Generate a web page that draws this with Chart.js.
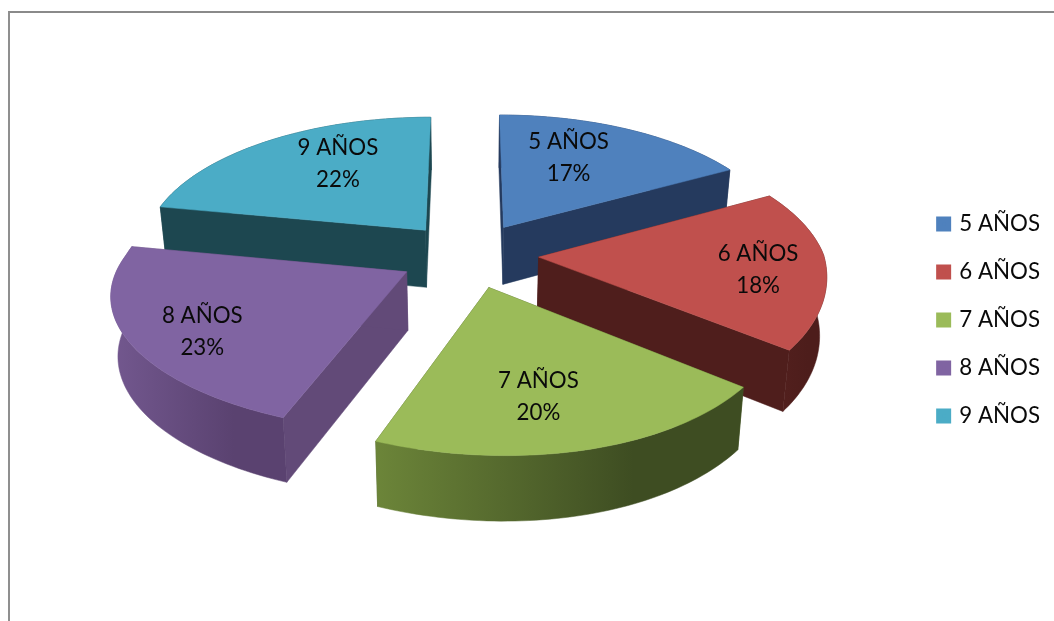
<!DOCTYPE html>
<html>
<head>
<meta charset="utf-8">
<style>
  html, body { margin: 0; padding: 0; background: #fff; overflow: hidden; }
  #frame { position: absolute; left: 8px; top: 11px; width: 1046px; height: 610px;
           border-left: 2px solid #8f8f8f; border-top: 2px solid #8a8a8a; box-sizing: border-box; }
  #wrap { position: absolute; left: 0; top: 0; width: 1054px; height: 621px; }
</style>
</head>
<body>
<div id="frame"></div>
<div id="wrap"><canvas id="pie"></canvas></div>
<script src="https://cdn.jsdelivr.net/npm/chart.js@4"></script>
<script>
// ─── Data ────────────────────────────────────────────
const LABELS = ['5 AÑOS', '6 AÑOS', '7 AÑOS', '8 AÑOS', '9 AÑOS'];
const VALUES = [17, 18, 20, 23, 22];

// ─── Colours ─────────────────────────────────────────
const TOP_COLORS  = ['#4F81BD', '#C0504D', '#9BBB59', '#8064A2', '#4BACC6'];
const WALL_COLORS = ['#253A5E', '#4F1E1C', '#4A5E28', '#624A78', '#1D4750'];
const RIM_LEFT    = ['#253A5E', '#55211F', '#6C8539', '#73588F', '#1D4750'];
const RIM_RIGHT   = ['#253A5E', '#4D1D1B', '#3E4D22', '#5A4270', '#1D4750'];

// ─── Fake 3D view, the library only lays out the flat pie ─────
const VIEW = { cx: 469, cy: 255, rx: 285, ry: 134.5, depth: 58, persp: 0.135, shrink: 0.02, shearX: -10, shearY: 10 };
// how far out the two line label sits on its slice, and a small nudge
const LABEL_POS = [[0.6, -12, -8], [0.72, 13, 6], [0.66, -11, 8], [0.72, -8, 10], [0.6, 10, -11]];
const FONT = 'Lato, Carlito, sans-serif';

function project(u, v, z) {
  const s = 1 / (1 - VIEW.persp * v);
  const k = 1 - VIEW.shrink * z;
  const front = Math.max(v, 0);   // the picture only skews on the near half
  return [VIEW.cx + (VIEW.rx * u + VIEW.shearX * front) * s * k,
          VIEW.cy + (VIEW.ry * v + VIEW.shearY * u * front) * s * k + VIEW.depth * s * z];
}

function slicePoint(el, angle, r) {
  const mid = (el.startAngle + el.endAngle) / 2;
  const off = el.options.offset / el.outerRadius;
  return [Math.cos(mid) * off + Math.cos(angle) * r, Math.sin(mid) * off + Math.sin(angle) * r];
}

function poly(ctx, pts, fill) {
  ctx.beginPath();
  pts.forEach((p, i) => i ? ctx.lineTo(p[0], p[1]) : ctx.moveTo(p[0], p[1]));
  ctx.closePath();
  ctx.fillStyle = fill;
  ctx.fill();
  ctx.strokeStyle = fill;   // hides hairlines on the polygon edges
  ctx.lineWidth = 0.5;
  ctx.stroke();
}

const pie3d = {
  id: 'pie3d',
  beforeDatasetDraw(chart, args) {
    const ctx = chart.ctx;
    const arcs = chart.getDatasetMeta(args.index).data;
    const depthOf = el => Math.sin((el.startAngle + el.endAngle) / 2);
    const order = arcs.map((el, i) => ({ el, i })).sort((a, b) => depthOf(a.el) - depthOf(b.el));

    const rim = (el, z) => {
      const pts = [];
      for (let n = 0; n <= 60; n++) {
        const a = el.startAngle + (el.endAngle - el.startAngle) * n / 60;
        const m = slicePoint(el, a, 1);
        pts.push(project(m[0], m[1], z));
      }
      return pts;
    };

    // walls first, from back to front
    order.forEach(({ el, i }) => {
      const c = slicePoint(el, 0, 0);
      [el.startAngle, el.endAngle].forEach(a => {
        const m = slicePoint(el, a, 1);
        poly(ctx, [project(c[0], c[1], 0), project(m[0], m[1], 0),
                   project(m[0], m[1], 1), project(c[0], c[1], 1)], WALL_COLORS[i]);
      });
      const top = rim(el, 0), bottom = rim(el, 1);
      const xs = top.concat(bottom).map(p => p[0]);
      const g = ctx.createLinearGradient(Math.min(...xs), 0, Math.max(...xs), 0);
      g.addColorStop(0, RIM_LEFT[i]);
      g.addColorStop(0.7, RIM_RIGHT[i]);
      g.addColorStop(1, RIM_RIGHT[i]);
      poly(ctx, top.concat(bottom.reverse()), g);
    });

    // then the top faces
    order.forEach(({ el, i }) => {
      const c = slicePoint(el, 0, 0);
      poly(ctx, [project(c[0], c[1], 0)].concat(rim(el, 0)), TOP_COLORS[i]);
    });

    // labels
    const total = VALUES.reduce((s, v) => s + v, 0);
    ctx.fillStyle = '#0a0a0a';
    ctx.font = '22.3px ' + FONT;
    ctx.textAlign = 'center';
    ctx.textBaseline = 'middle';
    arcs.forEach((el, i) => {
      const mid = (el.startAngle + el.endAngle) / 2;
      const [r, dx, dy] = LABEL_POS[i];
      const m = slicePoint(el, mid, r);
      const p = project(m[0], m[1], 0);
      ctx.fillText(LABELS[i], p[0] + dx, p[1] + dy - 16);
      ctx.fillText(Math.round(VALUES[i] / total * 100) + '%', p[0] + dx, p[1] + dy + 16);
    });
    return false;
  },
};

new Chart(document.getElementById('pie'), {
  type: 'pie',
  data: {
    labels: LABELS,
    // the border only shows on the legend swatches, the slices are painted by pie3d
    datasets: [{ data: VALUES, backgroundColor: TOP_COLORS, borderColor: TOP_COLORS, borderWidth: 6, offset: 65 }],
  },
  options: {
    responsive: true, maintainAspectRatio: false, animation: false,
    layout: { padding: { top: 19, right: 4 } },
    plugins: {
      tooltip: { enabled: false },
      legend: {
        position: 'right',
        labels: { color: '#0a0a0a', font: { size: 22.3, family: FONT }, boxWidth: 9, boxHeight: 9, padding: 25.7 },
      },
    },
  },
  plugins: [pie3d],
});
</script>
</body>
</html>
